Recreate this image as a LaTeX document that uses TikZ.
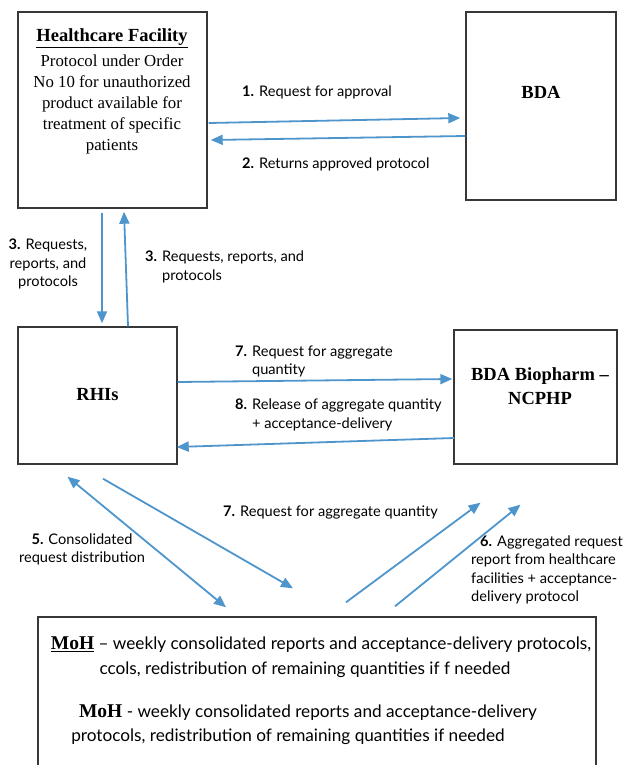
\documentclass[tikz,border=0pt]{standalone}
\usepackage{fontspec}
\setmainfont{Liberation Serif}
\setsansfont{Lato}
\usepackage{tikz}
\usetikzlibrary{arrows.meta,calc}
\definecolor{flowblue}{RGB}{78,149,204}
\definecolor{boxgray}{RGB}{55,55,55}

\begin{document}
\begin{tikzpicture}[x=1pt, y=-1pt,
  box/.style={draw=boxgray, line width=1.4pt, inner sep=0pt},
  ttl/.style={font=\bfseries\fontsize{18.5}{22}\selectfont, inner sep=0pt},
  body/.style={font=\fontsize{16.8}{21}\selectfont, align=center, inner sep=0pt},
  lbl/.style={font=\sffamily\fontsize{14.6}{18.5}\selectfont, align=left, inner sep=0pt, anchor=west},
  mtxt/.style={font=\sffamily\fontsize{17.2}{20}\selectfont, inner sep=0pt},
  flow/.style={draw=flowblue, line width=1.8pt, -{Triangle[length=12pt,width=10pt]}}]
\useasboundingbox (0,0) rectangle (624,765);
% boxes
\node[box, minimum width=189pt, minimum height=196pt] (hf) at (112.5,110) {};
\node[box, minimum width=150pt, minimum height=188pt] (bda) at (541,106) {};
\node[box, minimum width=159pt, minimum height=137pt] (rhi) at (97.5,395.5) {};
\node[box, minimum width=163pt, minimum height=134pt] (bio) at (535.5,397) {};
\node[box, minimum width=558pt, minimum height=163pt] (moh) at (317,698.5) {};
% box texts
\node[ttl] (hftitle) at (112,38) {\underline{Healthcare Facility}};
\node[body] (hfbody) at (112,104) {Protocol under Order\\No 10 for unauthorized\\product available for\\treatment of specific\\patients};
\node[ttl] (bdatitle) at (541,92) {BDA};
\node[ttl] (rhititle) at (97.5,395) {RHIs};
\node[ttl, align=center, font=\bfseries\fontsize{18.5}{24}\selectfont] (biotitle) at (540,386) {BDA Biopharm –\\NCPHP};
\node[mtxt] (moh1) at (321,645) {\underline{\rmfamily\bfseries\fontsize{19.5}{20}\selectfont MoH} – weekly consolidated reports and acceptance-delivery protocols,};
\node[mtxt] (moh2) at (305,670) {ccols, redistribution of remaining quantities if f needed};
\node[mtxt] (moh3) at (308,713) {{\rmfamily\bfseries\fontsize{19.5}{20}\selectfont MoH} - weekly consolidated reports and acceptance-delivery};
\node[mtxt] (moh4) at (288,737) {protocols, redistribution of remaining quantities if needed};
% connector labels
\node[lbl] (l1) at (242,92) {\textbf{1.} Request for approval};
\node[lbl] (l2) at (242,164) {\textbf{2.} Returns approved protocol};
\node[lbl, align=center, anchor=center] (l3a) at (48,264) {\textbf{3.} Requests,\\reports, and\\protocols};
\node[lbl] (l3b) at (145,267) {\textbf{3.} Requests, reports, and\\\phantom{\textbf{3.} }protocols};
\node[lbl] (l7) at (235,361.5) {\textbf{7.} Request for aggregate\\\phantom{\textbf{7.} }quantity};
\node[lbl] (l8) at (235,415) {\textbf{8.} Release of aggregate quantity\\\phantom{\textbf{8.} }+ acceptance-delivery};
\node[lbl, align=center, anchor=center] (l5) at (82,549.5) {\textbf{5.} Consolidated\\request distribution};
\node[lbl] (l7b) at (223,512) {\textbf{7.} Request for aggregate quantity};
\node[lbl] (l6) at (471,570) {\hspace{9pt}\textbf{6.} Aggregated request\\report from healthcare\\facilities + acceptance-\\delivery protocol};
% connectors
\draw[flow] ($(hf.east)+(1,13)$) -- ($(bda.west)+(-5,12)$);
\draw[flow] ($(bda.west)+(0,30)$) -- ($(hf.east)+(3,30)$);
\draw[flow] ($(hf.south)+(-10.5,4)$) -- ($(rhi.north)+(4.5,-3)$);
\draw[flow] ($(rhi.north)+(30.5,0)$) -- ($(hf.south)+(11.5,3)$);
\draw[flow] ($(rhi.east)+(0,-13.5)$) -- ($(bio.west)+(-1,-18)$);
\draw[flow] ($(bio.west)+(1,41)$) -- ($(rhi.east)+(-1,51.5)$);
\draw[flow, {Triangle[length=12pt,width=10pt]}-{Triangle[length=12pt,width=10pt]}] ($(rhi.south)+(-30,12)$) -- ($(moh.north)+(-91,-9)$);
\draw[flow] ($(rhi.south)+(5.5,14)$) -- ($(moh.north)+(-24,-28)$);
\draw[flow] ($(moh.north)+(29,-14)$) -- ($(bio.south)+(-55,38)$);
\draw[flow] ($(moh.north)+(78,-10)$) -- ($(bio.south)+(-15,40)$);
\end{tikzpicture}
\end{document}
